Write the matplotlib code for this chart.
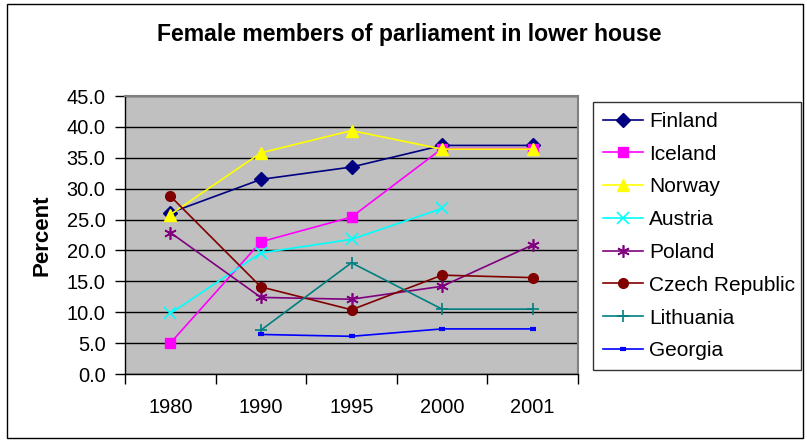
import matplotlib
matplotlib.use("Agg")
import matplotlib.pyplot as plt
from matplotlib.patches import Rectangle
import numpy as np

plt.rcParams['font.family'] = ['Liberation Sans', 'DejaVu Sans']

years = ["1980", "1990", "1995", "2000", "2001"]
finland = [26.1, 31.5, 33.5, 37.0, 37.0]
iceland = [5.0, 21.4, 25.4, 36.5, 36.5]
norway = [25.8, 35.8, 39.4, 36.4, 36.4]
austria = [9.8, 19.6, 21.8, 26.8, None]
poland = [22.9, 12.4, 12.1, 14.2, 20.9]
czech = [28.8, 14.1, 10.4, 16.0, 15.6]
lithuania = [None, 7.1, 18.0, 10.5, 10.5]
georgia = [None, 6.4, 6.1, 7.3, 7.3]

series = [
    ("Finland", finland, "#000080", "D", 7),
    ("Iceland", iceland, "#FF00FF", "s", 7),
    ("Norway", norway, "#FFFF00", "^", 8),
    ("Austria", austria, "#00FFFF", "x", 8),
    ("Poland", poland, "#800080", (6, 2, 0), 9),
    ("Czech Republic", czech, "#800000", "o", 7),
    ("Lithuania", lithuania, "#008080", "+", 9),
    ("Georgia", georgia, "#0000FF", "_", 5),
]

W, H = 807, 440
fig = plt.figure(figsize=(W / 100, H / 100), dpi=100)
ax = fig.add_axes([125 / W, 1 - 374 / H, (578 - 125) / W, (374 - 96) / H])
ax.set_facecolor("#C0C0C0")

x = np.arange(len(years))
for name, vals, col, mk, ms in series:
    v = np.array([np.nan if a is None else a for a in vals], dtype=float)
    kw = dict(color=col, lw=1.2, marker=mk, markersize=ms, label=name,
              markerfacecolor=col, markeredgecolor=col)
    if mk in ("x", "+", (6, 2, 0)):
        kw["markeredgewidth"] = 1.2
    if mk == "_":
        kw["markeredgewidth"] = 3
    ax.plot(x, v, **kw)

ax.set_xlim(-0.5, len(years) - 0.5)
ax.set_ylim(0, 45)
ax.set_yticks(np.arange(0, 45.1, 5))
ax.set_yticklabels([f"{t:.1f}" for t in np.arange(0, 45.1, 5)])
ax.set_xticks(x)
ax.set_xticklabels(years)
ax.set_xticks(np.arange(-0.5, len(years), 1), minor=True)
ax.tick_params(axis='x', which='major', length=0, pad=17, labelsize=14.4)
ax.tick_params(axis='x', which='minor', length=7, width=1, direction='out')
ax.tick_params(axis='y', which='major', length=7, width=1, direction='out', pad=7, labelsize=14.4)
ax.yaxis.grid(True, color="#000000", lw=1)
ax.set_axisbelow(True)
for s in ("top", "right"):
    ax.spines[s].set_color("#808080")
    ax.spines[s].set_linewidth(1.5)
for s in ("left", "bottom"):
    ax.spines[s].set_color("#000000")
    ax.spines[s].set_linewidth(1)

ax.set_ylabel("Percent", fontsize=16, fontweight="bold", labelpad=10)

fig.text(409 / W, 1 - 34.5 / H, "Female members of parliament in lower house",
         ha="center", va="center", fontsize=16.6, fontweight="bold")

leg = fig.legend(loc="upper left", bbox_to_anchor=(593 / W, 1 - 370 / H, (801 - 593) / W, (370 - 102) / H),
                 mode="expand", fontsize=15, frameon=True, fancybox=False,
                 edgecolor="#000000", handlelength=1.9, handletextpad=0.3,
                 labelspacing=0.66, borderpad=0.48, borderaxespad=0)
leg.get_frame().set_linewidth(1)

fig.patches.append(Rectangle((7 / W, 1 - 438 / H), (803 - 7) / W, (438 - 4) / H,
                             transform=fig.transFigure, fill=False, edgecolor="#000000", lw=1))

fig.savefig("out.png", dpi=100)
